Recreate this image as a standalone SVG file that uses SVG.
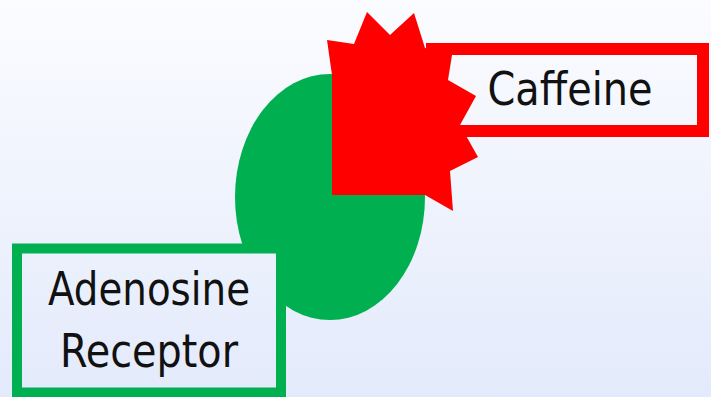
<svg xmlns="http://www.w3.org/2000/svg" width="711" height="397" viewBox="0 0 711 397">
  <defs>
    <linearGradient id="bg" x1="0" y1="0" x2="0" y2="397" gradientUnits="userSpaceOnUse">
      <stop offset="0" stop-color="#fbfcff"/>
      <stop offset="1" stop-color="#e3eafb"/>
    </linearGradient>
    <style>
      .label { font-family: "DejaVu Sans", "Liberation Sans", sans-serif; font-size: 47px; fill: #111; text-anchor: middle; }
    </style>
  </defs>
  <rect x="0" y="0" width="711" height="397" fill="url(#bg)"/>

  <!-- receptor body -->
  <g id="receptor">
    <ellipse cx="330" cy="197" rx="95" ry="123" fill="#00b050"/>
  </g>

  <!-- caffeine label box -->
  <g id="caffeine-label">
    <rect x="432" y="49" width="271" height="82" fill="url(#bg)" stroke="#ff0000" stroke-width="12"/>
    <text class="label" x="570" y="105" textLength="165" lengthAdjust="spacingAndGlyphs">Caffeine</text>
  </g>

  <!-- caffeine molecule burst -->
  <g id="caffeine">
    <polygon fill="#ff0000" points="327,40 354,44 367,12 390,35 414,13 425,48 452,55 448,80 476,96 460,125 478,157 450,171 453,211 425,195 332,195 332,75"/>
  </g>

  <!-- receptor label box -->
  <g id="receptor-label">
    <rect x="17" y="248.5" width="264" height="144" fill="url(#bg)" stroke="#00b050" stroke-width="10"/>
    <text class="label" x="149" y="305" textLength="202" lengthAdjust="spacingAndGlyphs">Adenosine</text>
    <text class="label" x="149" y="367" textLength="178" lengthAdjust="spacingAndGlyphs">Receptor</text>
  </g>

  <g id="connectors"/>
</svg>
